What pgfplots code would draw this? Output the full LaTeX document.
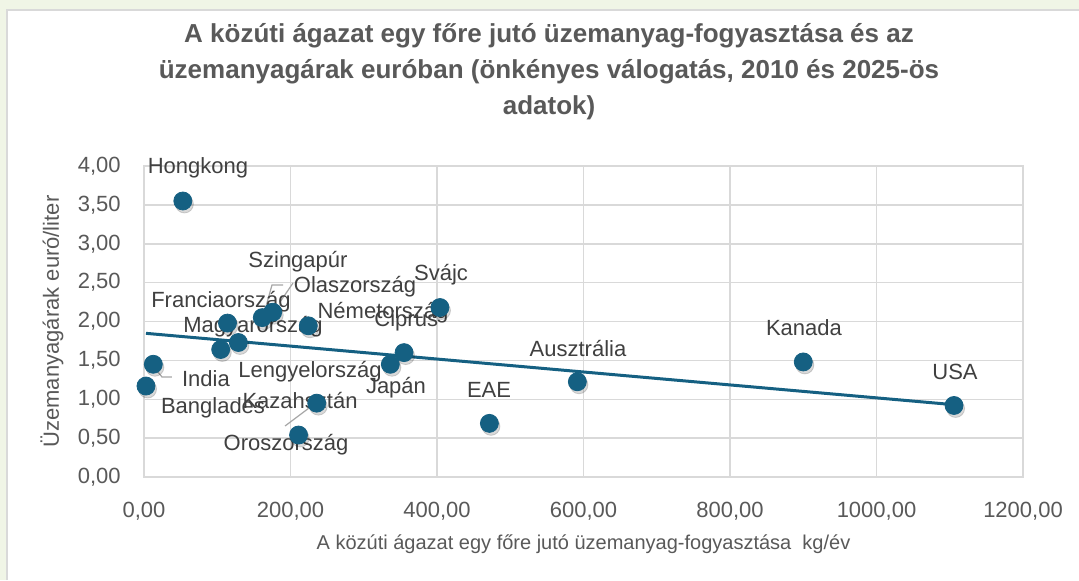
\documentclass[border=0pt]{standalone}
\usepackage{fontspec}
\setmainfont{Liberation Sans}
\usepackage{pgfplots}
\usepackage{pgfplotstable}
\pgfplotsset{compat=1.18}
\definecolor{acc}{HTML}{156082}
\definecolor{gridc}{HTML}{D9D9D9}
\definecolor{tickc}{HTML}{595959}
\definecolor{labc}{HTML}{404040}
\definecolor{leadc}{HTML}{A6A6A6}
\definecolor{bgg}{HTML}{F0F5E6}

\pgfplotstableread{
x y
53.0 3.55
114.0 1.98
161.5 2.05
175.7 2.12
224.3 1.945
104.7 1.64
128.8 1.73
12.7 1.45
2.7 1.17
235.8 0.95
211.0 0.54
336.3 1.45
355.0 1.60
404.0 2.18
471.5 0.69
591.6 1.225
900.0 1.48
1105.8 0.92
}\datatable

\newcommand{\lbl}{\fontsize{11}{13}\selectfont}
\begin{document}
\begin{tikzpicture}
\begin{scope}[x=0.5pt,y=-0.5pt]
\useasboundingbox (0,0) rectangle (1079,580);
\fill[bgg] (0,0) rectangle (1079,580);
\fill[white] (7,10) rectangle (1079,580);
\draw[gridc, line width=0.75pt] (7,580) -- (7,10) -- (1079,10);
\end{scope}
\begin{axis}[
  at={(72pt,-238.5pt)}, anchor=south west,
  scale only axis, width=439.5pt, height=155.5pt,
  xmin=0, xmax=1200, ymin=0, ymax=4,
  xtick={0,200,...,1200}, ytick={0,0.5,...,4},
  scaled ticks=false,
  grid=major, major grid style={color=gridc, line width=0.75pt},
  axis line style={gridc, line width=0.75pt},
  major tick length=0pt,
  tick label style={font=\lbl, text=tickc},
  xticklabel={\pgfmathprintnumber[fixed,fixed zerofill,precision=2,use comma,1000 sep={},assume math mode=true]{\tick}},
  yticklabel={\pgfmathprintnumber[fixed,fixed zerofill,precision=2,use comma,1000 sep={},assume math mode=true]{\tick}},
  yticklabel style={anchor=east, inner sep=0pt, xshift=-11.5pt},
  xticklabel style={anchor=north, inner sep=0pt, yshift=-12.5pt},
  xlabel={A közúti ágazat egy főre jutó üzemanyag-fogyasztása\ \ kg/év},
  xlabel style={at={(axis description cs:0.5,-0.2154)}, anchor=center, font=\fontsize{10}{12}\selectfont, text=tickc},
  ylabel={Üzemanyagárak euró/liter},
  ylabel style={at={(axis description cs:-0.1047,0.5)}, anchor=center, rotate=0, font=\lbl, text=tickc},
  title={A közúti ágazat egy főre jutó üzemanyag-fogyasztása és az\\üzemanyagárak euróban (önkényes válogatás, 2010 és 2025-ös\\adatok)},
  title style={at={(axis description cs:0.4608,1.2637)}, anchor=center, align=center, font=\bfseries\fontsize{13}{18}\selectfont, text=tickc},
  clip=false,
]
\addplot[acc, line width=1.5pt] coordinates {(2.7,1.848) (1105.8,0.930)};
\addplot[only marks, mark=*, mark size=4.5pt, black, opacity=0.15, mark options={xshift=0.8pt, yshift=-1.5pt, draw=none, fill=black}] table[x=x,y=y] {\datatable};
\addplot[only marks, mark=*, mark size=4.5pt, acc, mark options={fill=acc, draw=acc}] table[x=x,y=y] {\datatable};

\draw[leadc, line width=0.6pt] (axis cs:12.3,1.428) -- (axis cs:24.6,1.286) -- (axis cs:38.2,1.286);
\draw[leadc, line width=0.6pt] (axis cs:162.5,2.058) -- (axis cs:174.7,2.469) -- (axis cs:189.8,2.469);
\draw[leadc, line width=0.6pt] (axis cs:185.7,2.251) -- (axis cs:203.4,2.495);
\draw[leadc, line width=0.6pt] (axis cs:192.5,0.656) -- (axis cs:230.7,0.926);

\begin{scope}[every node/.style={font=\lbl, text=labc, inner sep=0pt}]
\node at (axis cs:73.7,3.974) {Hongkong};
\node at (axis cs:210.2,2.765) {Szingapúr};
\node at (axis cs:288.1,2.444) {Olaszország};
\node at (axis cs:105.1,2.251) {Franciaország};
\node at (axis cs:148.8,1.929) {Magyarország};
\node at (axis cs:326.3,2.109) {Németország};
\node at (axis cs:358.0,2.006) {Ciprus};
\node at (axis cs:405.5,2.598) {Svájc};
\node at (axis cs:84.6,1.260) {India};
\node at (axis cs:226.6,1.350) {Lengyelország};
\node at (axis cs:344.0,1.145) {Japán};
\node at (axis cs:213.0,0.990) {Kazahsztán};
\node at (axis cs:94.2,0.887) {Banglades};
\node at (axis cs:193.9,0.412) {Oroszország};
\node at (axis cs:471.0,1.119) {EAE};
\node at (axis cs:592.5,1.659) {Ausztrália};
\node at (axis cs:901.0,1.916) {Kanada};
\node at (axis cs:1107.2,1.350) {USA};
\end{scope}
\end{axis}
\end{tikzpicture}
\end{document}
